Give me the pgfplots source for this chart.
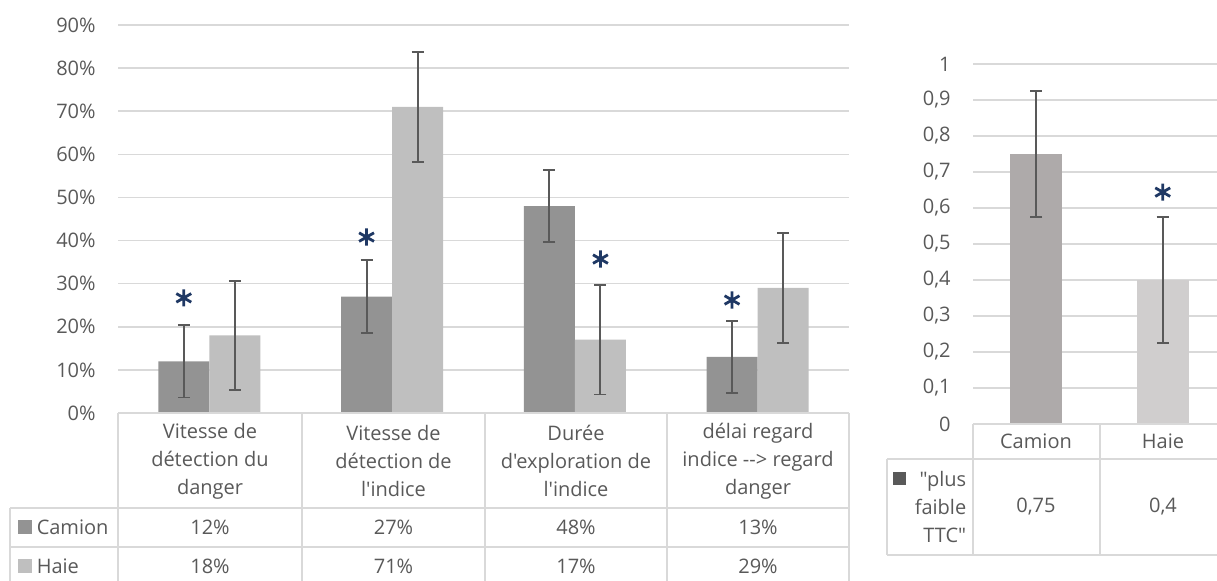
\documentclass[border=0pt]{standalone}
\usepackage{fontspec}
\setmainfont{Open Sans}[Ligatures=TeXOff]
\usepackage{pgfplots}
\pgfplotsset{compat=1.18}

\definecolor{camion}{HTML}{939393}
\definecolor{haie}{HTML}{BFBFBF}
\definecolor{camiontwo}{HTML}{AEAAAA}
\definecolor{haietwo}{HTML}{D0CECE}
\definecolor{gridc}{HTML}{D9D9D9}
\definecolor{txt}{HTML}{595959}
\definecolor{star}{HTML}{1F3864}

\newcommand{\tf}{\fontsize{10}{14}\selectfont}

\pgfplotsset{
  excel/.style={
    scale only axis, clip=false,
    axis line style={draw=none},
    xtick=\empty, major tick length=0pt,
    ymajorgrids, grid style={gridc, line width=0.75pt},
    /pgf/number format/assume math mode=true,
    yticklabel style={font=\tf, text=txt, inner sep=0pt, xshift=-11pt},
  },
  errs/.style={error bars/.cd, y dir=both, y explicit,
    error bar style={txt, line width=0.9pt},
    error mark options={txt, line width=0.9pt, mark size=3pt, rotate=90}},
}

\begin{document}
\begin{tikzpicture}
\useasboundingbox (0,0) rectangle (608.5pt,290.5pt);

% left chart: categories at 0..3, Camion left of centre, Haie right
\begin{axis}[excel, at={(59pt,84pt)}, anchor=south west,
  width=365.5pt, height=194pt,
  xmin=-0.5, xmax=3.5, ymin=0, ymax=90,
  ytick={0,10,...,90},
  yticklabel={\pgfmathprintnumber{\tick}\%}]
\addplot[ybar, bar width=25.5pt, bar shift=0pt, fill=camion, draw=none, errs]
  coordinates {(-0.1395,12) +- (0,8.4) (0.8605,27) +- (0,8.4)
               (1.8605,48) +- (0,8.4) (2.8605,13) +- (0,8.4)};
\addplot[ybar, bar width=25.5pt, bar shift=0pt, fill=haie, draw=none, errs]
  coordinates {(0.1395,18) +- (0,12.7) (1.1395,71) +- (0,12.7)
               (2.1395,17) +- (0,12.7) (3.1395,29) +- (0,12.7)};
\addplot[only marks, mark=asterisk, mark size=4.3pt, star, line width=1.4pt]
  coordinates {(-0.14,26.7) (0.86,40.8) (2.14,35.7) (2.86,26.2)};
\end{axis}

% right chart
\begin{axis}[excel, at={(486.5pt,78.5pt)}, anchor=south west,
  width=122pt, height=180pt,
  xmin=-0.5, xmax=1.429, ymin=0, ymax=1,
  ytick={0,0.1,...,1},
  /pgf/number format/.cd, use comma, fixed, precision=2]
\addplot[ybar, bar width=26pt, bar shift=0pt, fill=camiontwo, draw=none, errs]
  coordinates {(0,0.75) +- (0,0.175)};
\addplot[ybar, bar width=26pt, bar shift=0pt, fill=haietwo, draw=none, errs]
  coordinates {(1,0.4) +- (0,0.175)};
\addplot[only marks, mark=asterisk, mark size=4.3pt, star, line width=1.4pt]
  coordinates {(1,0.644)};
\end{axis}

% data tables (pixel coordinates of the image)
\begin{scope}[x=0.5pt, y=-0.5pt, yshift=290.5pt, gridc, line width=0.75pt,
  every node/.style={font=\tf, text=txt, inner sep=0pt}]
  \draw (118,413) -- (849,413);
  \foreach \xx in {118,302,485,667,849} \draw (\xx,413) -- (\xx,585);
  \draw (10,508) -- (849,508) (10,547) -- (849,547) (10,508) -- (10,585);
  \node[align=center] at (210,461) {Vitesse de\\détection du\\danger};
  \node[align=center] at (393.5,461) {Vitesse de\\détection de\\l'indice};
  \node[align=center] at (576,461) {Durée\\d'exploration de\\l'indice};
  \node[align=center] at (758,461) {délai regard\\indice --> regard\\danger};
  \fill[camion] (18,520) rectangle (32,534);
  \node[anchor=west] at (36,527) {Camion};
  \fill[haie] (18,559) rectangle (32,573);
  \node[anchor=west] at (36,566) {Haie};
  \node at (210,527) {12\%}; \node at (393.5,527) {27\%};
  \node at (576,527) {48\%}; \node at (758,527) {13\%};
  \node at (210,566) {18\%}; \node at (393.5,566) {71\%};
  \node at (576,566) {17\%}; \node at (758,566) {29\%};

  \draw (973,424) -- (1217,424);
  \draw (973,424) -- (973,555) (1100,424) -- (1100,555);
  \draw (887,459) -- (1217,459) (887,555) -- (1217,555) (887,459) -- (887,555);
  \node at (1036,441) {Camion};
  \node at (1163,441) {Haie};
  \fill[txt] (893,472) rectangle (906,485);
  \node[align=right, anchor=east] at (967,507) {"plus\\faible\\TTC"};
  \node at (1036,507) {0,75};
  \node at (1163,507) {0,4};
\end{scope}
\end{tikzpicture}
\end{document}
